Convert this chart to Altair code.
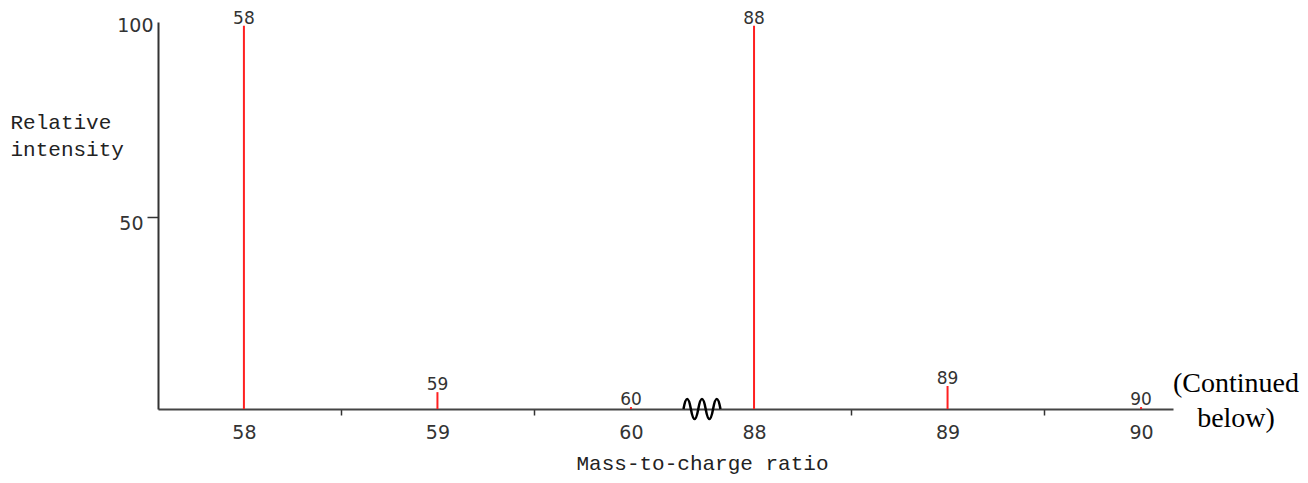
import altair as alt
import pandas as pd

# ---- data ----
mz = [58, 59, 60, 88, 89, 90]
intensity = [100, 4.4, 0.5, 100, 6.0, 0.5]
y_ticks = [50, 100]

# layout: one axis step per m/z unit, a shortened step across the axis break
break_step = 0.636
pos = [0.0]
for a, b in zip(mz[:-1], mz[1:]):
    pos.append(pos[-1] + (1.0 if b - a == 1 else break_step))
half_ticks = [(pos[i] + pos[i + 1]) / 2 for i in range(len(pos) - 1) if mz[i + 1] - mz[i] == 1]
break_mark = 2.367

df = pd.DataFrame({"pos": pos, "mz": [str(m) for m in mz], "intensity": intensity})
brk = pd.DataFrame({"pos": [break_mark], "intensity": [0]})

label_expr = "".join(f"abs(datum.value-{p})<0.01 ? '{m}' : " for p, m in zip(pos, mz)) + "''"
tick_test = " || ".join(f"abs(datum.value-{h})<0.01" for h in half_ticks)

x_scale = alt.Scale(domain=[-0.444, 4.801], nice=False, zero=False)
y_scale = alt.Scale(domain=[0, 101], nice=False)

x_axis = alt.Axis(
    values=sorted(pos + half_ticks),
    labelExpr=label_expr,
    grid=False,
    domainColor="#444", domainWidth=2,
    tickColor="#333", tickWidth=1.5, tickSize=6,
    tickOpacity={"condition": {"test": tick_test, "value": 1}, "value": 0},
    labelFont="DejaVu Sans", labelFontSize=19, labelColor="#333",
    labelPadding=8,
    title="Mass-to-charge ratio",
    titleFont="Liberation Mono", titleFontSize=21, titleFontWeight="normal",
    titleColor="#222", titleX=544, titleY=60, titleBaseline="alphabetic",
    titleAlign="center",
)

y_axis = alt.Axis(
    values=y_ticks,
    grid=False,
    domainColor="#333", domainWidth=2,
    tickColor="#333", tickWidth=1.5, tickSize=11,
    tickOpacity={"condition": {"test": "datum.value > 75", "value": 0}, "value": 1},
    labelFont="DejaVu Sans", labelFontSize=19, labelColor="#333",
    labelBaseline="middle",
    labelPadding={"condition": {"test": "datum.value > 75", "value": -6}, "value": 4},
    labelOffset={"condition": {"test": "datum.value > 75", "value": 0}, "value": 6},
    title=["Relative", "intensity"],
    titleFont="Liberation Mono", titleFontSize=21, titleFontWeight="normal",
    titleColor="#222", titleAngle=0, titleAlign="left",
    titleX=-148, titleY=106, titleBaseline="alphabetic", titleLineHeight=27,
)

base = alt.Chart(df)

bars = base.mark_rule(color="#ff2020", strokeWidth=2).encode(
    x=alt.X("pos:Q", scale=x_scale, axis=x_axis),
    y=alt.Y("intensity:Q", scale=y_scale, axis=y_axis),
    y2=alt.datum(0),
)

labels = base.mark_text(
    baseline="alphabetic", dy=-2, font="DejaVu Sans", fontSize=17, color="#333"
).encode(
    x=alt.X("pos:Q", scale=x_scale),
    y=alt.Y("intensity:Q", scale=y_scale),
    text="mz:N",
)

squiggle = alt.Chart(brk).mark_point(
    shape="M-1,0Q-0.8,-1.08,-0.6,0T-0.2,0T0.2,0T0.6,0T1,0",
    filled=False, stroke="black", strokeWidth=2.5, size=1369, opacity=1,
).encode(
    x=alt.X("pos:Q", scale=x_scale),
    y=alt.Y("intensity:Q", scale=y_scale),
)

note = alt.Chart(brk).mark_text(
    font="Liberation Serif", fontSize=28, color="black", align="center",
    baseline="alphabetic", lineHeight=35,
).encode(
    x=alt.value(1078),
    y=alt.value(370),
    text=alt.value(["(Continued", "below)"]),
)

chart = (
    alt.layer(bars, labels, squiggle, note)
    .properties(
        width=1015,
        height=387,
        autosize=alt.AutoSizeParams(type="none"),
        padding={"left": 150, "top": 14, "right": 127, "bottom": 66},
    )
    .configure(background="white", view=alt.ViewConfig(stroke=None, strokeWidth=0))
)

chart.save("out.html", embed_options={"renderer": "svg", "actions": False})
